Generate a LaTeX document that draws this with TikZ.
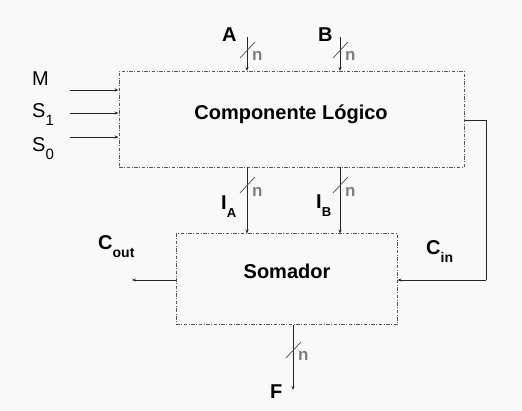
\documentclass[tikz,border=0pt]{standalone}
\usepackage{fontspec}
\setmainfont{Liberation Sans}
\usetikzlibrary{arrows.meta}
\definecolor{bg}{HTML}{F9F9F9}
\definecolor{boxline}{HTML}{555555}
\definecolor{ngray}{HTML}{808080}
\newcommand{\sbs}[2]{\raisebox{-8pt}{\fontsize{#1}{#1}\selectfont #2}}
\tikzset{
  blockbox/.style={draw=boxline, line width=1pt, dash pattern=on 3.5pt off 1.5pt on 1pt off 1.5pt, inner sep=0pt},
  wire/.style={draw=black!85, line width=0.8pt, -{Stealth[length=4pt,width=3pt]}},
  plainwire/.style={draw=black!85, line width=0.8pt},
  slash/.style={draw=black!70, line width=0.7pt},
  nlab/.style={text=ngray, font=\bfseries\fontsize{17}{17}\selectfont, inner sep=0pt, anchor=base west},
  blab/.style={font=\bfseries\fontsize{20}{20}\selectfont, inner sep=0pt, anchor=base west},
  titlelab/.style={font=\bfseries\fontsize{20}{20}\selectfont, inner sep=0pt, anchor=base},
  rlab/.style={font=\fontsize{20}{20}\selectfont, inner sep=0pt, anchor=base west},
}
\begin{document}
\begin{tikzpicture}[x=1pt,y=-1pt]
\fill[bg] (0,0) rectangle (522,411);
\useasboundingbox (0,0) rectangle (522,411);
% boxes
\node[blockbox, minimum width=345pt, minimum height=96pt] (CL) at (291.5,119.5) {};
\node[titlelab] (CLt) at (291,120) {Componente Lógico};
\node[blockbox, minimum width=221pt, minimum height=91pt] (SO) at (286.5,279.5) {};
\node[titlelab] (SOt) at (287,279) {Somador};
% top inputs
\coordinate (Ain) at (247,37);
\coordinate (Bin) at (340,37);
\draw[wire] (Ain) -- (Ain |- CL.north);
\draw[wire] (Bin) -- (Bin |- CL.north);
\node[blab] (Alab) at (222,42) {A};
\node[blab] (Blab) at (318,42) {B};
\draw[slash] (240,58) -- (255,42);
\draw[slash] (333,58) -- (348,42);
\node[nlab] (nA) at (252,61) {n};
\node[nlab] (nB) at (345,61) {n};
% left inputs
\coordinate (Min) at (70,90);
\coordinate (S1in) at (70,113);
\coordinate (S0in) at (70,137);
\draw[wire] (Min) -- (Min -| CL.west);
\draw[wire] (S1in) -- (S1in -| CL.west);
\draw[wire] (S0in) -- (S0in -| CL.west);
\node[rlab] (Mlab) at (32,86) {M};
\node[rlab] (S1lab) at (32,118) {S\sbs{15}{1}};
\node[rlab] (S0lab) at (32,152) {S\sbs{15}{0}};
% intermediate
\draw[wire] (247,167) coordinate (IAs) -- (IAs |- SO.north);
\draw[wire] (340,167) coordinate (IBs) -- (IBs |- SO.north);
\draw[slash] (240,193) -- (255,177);
\draw[slash] (333,193) -- (348,177);
\node[nlab] (nIA) at (252,197) {n};
\node[nlab] (nIB) at (345,197) {n};
\node[blab] (IAlab) at (221,210) {I\sbs{13}{A}};
\node[blab] (IBlab) at (316,209) {I\sbs{13}{B}};
% carry loop
\coordinate (c1) at (486,120);
\coordinate (c2) at (486,280);
\draw[plainwire] (CL.east |- c1) -- (c1) -- (c2);
\draw[wire] (c2) -- (c2 -| SO.east);
\node[blab] (Cin) at (426,255) {C\sbs{14}{in}};
% carry out
\coordinate (Cout) at (132,280);
\draw[wire] (SO.west |- Cout) -- (Cout);
\node[blab] (Coutl) at (98,250) {C\sbs{14}{out}};
% output F
\coordinate (Fend) at (293,390);
\draw[wire] (Fend |- SO.south) -- (Fend);
\draw[slash] (286,358) -- (301,342);
\node[nlab] (nF) at (298,361) {n};
\node[blab] (Flab) at (270,399) {F};
\end{tikzpicture}
\end{document}
